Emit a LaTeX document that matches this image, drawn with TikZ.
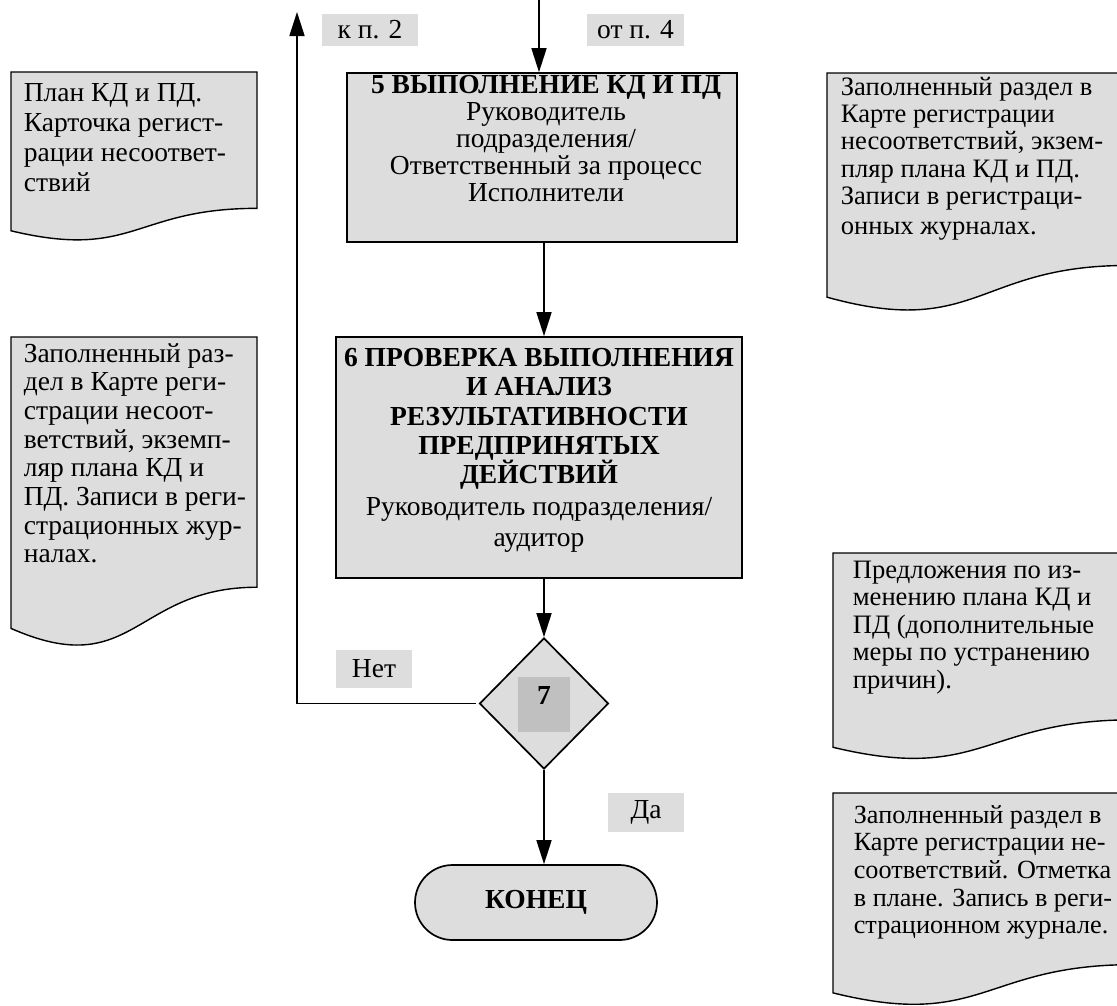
\documentclass[tikz,border=0pt]{standalone}
\usepackage{fontspec}
\setmainfont{Liberation Serif}
\usetikzlibrary{arrows.meta,shapes.geometric,shapes.misc}
\definecolor{boxgray}{RGB}{221,221,221}
\definecolor{sqgray}{RGB}{192,192,192}
\newcommand\docshape[4]{%
  \draw[docline] (#1,#2) -- (#1+#3,#2) -- (#1+#3,#2+0.802*#4)
    .. controls (#1+0.5*#3,#2+0.802*#4) and (#1+0.5*#3,#2+1.1075*#4) .. (#1,#2+0.934*#4) -- cycle;}
\newcommand\fs[1]{\fontsize{27.5}{#1}\selectfont}
\newcommand\fsr[1]{\fontsize{26.6}{#1}\selectfont}
\begin{document}
\begin{tikzpicture}[x=1pt,y=-1pt,
  line width=1.7pt,
  every node/.style={inner sep=0pt},
  txt/.style={font=\fs{27}},
  proc/.style={draw, fill=boxgray},
  lbl/.style={fill=boxgray, font=\fs{30}},
  arr/.style={-{Triangle[length=24pt,width=15pt]}},
  docline/.style={draw, fill=boxgray, line width=1.4pt},
  doctxt/.style={anchor=base west}
]
\useasboundingbox (0,0) rectangle (1117,1005);
\clip (0,0) rectangle (1117,1005);

% documents
\docshape{11}{72}{246}{170}
\node[doctxt, font=\fs{30}] (doc1) at (23,101.7) {\begin{tabular}[t]{@{}l@{}}План КД и ПД.\\Карточка регист-\\рации несоответ-\\ствий\end{tabular}};

\docshape{11}{337}{246}{312}
\node[doctxt, font=\fs{28.7}] (doc2) at (23,362) {\begin{tabular}[t]{@{}l@{}}Заполненный раз-\\дел в Карте реги-\\страции несоот-\\ветствий, экземп-\\ляр плана КД и\\ПД. Записи в реги-\\страционных жур-\\налах.\end{tabular}};

\docshape{827}{73}{300}{240}
\node[doctxt, font=\fsr{27.2}] (doc3) at (840,95.5) {\begin{tabular}[t]{@{}l@{}}Заполненный раздел в\\Карте регистрации\\несоответствий, экзем-\\пляр плана КД и ПД.\\Записи в регистраци-\\[2.5pt]онных журналах.\end{tabular}};

\docshape{833}{553}{300}{208}
\node[doctxt, font=\fsr{27.5}] (doc4) at (852,578) {\begin{tabular}[t]{@{}l@{}}Предложения по из-\\менению плана КД и\\ПД (дополнительные\\меры по устранению\\причин).\end{tabular}};

\docshape{833}{793}{300}{214}
\node[doctxt, font=\fontsize{26.2}{27.7}\selectfont] (doc5) at (853,823) {\begin{tabular}[t]{@{}l@{}}Заполненный раздел в\\Карте регистрации не-\\соответствий. Отметка\\в плане. Запись в реги-\\страционном журнале.\end{tabular}};

% process boxes
\node[proc, minimum width=390pt, minimum height=169pt] (b5) at (542,157.5) {};
\node[font=\fs{27}, anchor=base] (t5) at (546,93.3) {\begin{tabular}[t]{@{}c@{}}\textbf{5 ВЫПОЛНЕНИЕ КД И ПД}\\Руководитель\\подразделения/\\Ответственный за процесс\\Исполнители\end{tabular}};

\node[proc, minimum width=406pt, minimum height=241pt] (b6) at (539,457.5) {};
\node[font=\fs{29.2}, anchor=base] (t6) at (539,366.7) {\begin{tabular}[t]{@{}c@{}}\textbf{6 ПРОВЕРКА ВЫПОЛНЕНИЯ}\\\textbf{И АНАЛИЗ}\\\textbf{РЕЗУЛЬТАТИВНОСТИ}\\\textbf{ПРЕДПРИНЯТЫХ}\\\smash{\textbf{ДЕЙСТВИЙ}}\\[2.5pt]Руководитель подразделения/\\[2.5pt]аудитор\end{tabular}};

% decision
\node[diamond, draw, fill=boxgray, minimum width=129pt, minimum height=131pt] (d7) at (544,703.5) {};
\node[fill=sqgray, minimum width=52pt, minimum height=55pt] (sq7) at (544,704.5) {};
\node[txt, anchor=base] (n7) at (544,704) {\textbf{7}};

% terminator
\node[proc, rounded rectangle, minimum width=242pt, minimum height=75pt, txt] (end) at (536,902.5) {\textbf{КОНЕЦ}};

% labels
\node[lbl, minimum width=96pt, minimum height=32pt] (k2) at (370,30) {к п. 2};
\node[lbl, minimum width=97pt, minimum height=32pt] (o4) at (635.5,30) {от п. 4};
\node[lbl, minimum width=76pt, minimum height=38pt] (no) at (374,669) {Нет};
\node[lbl, minimum width=76pt, minimum height=39pt] (yes) at (646,812.5) {Да};

% connectors
\coordinate (in4) at (539,-2);
\coordinate (up2) at (297,12);
\draw[arr] (in4) -- (b5.north -| in4);
\draw[arr] (b5.south -| d7.north) -- (b6.north -| d7.north);
\draw[arr] (b6.south -| d7.north) -- (d7.north);
\draw[arr] (d7.south) -- (end.north -| d7.south);
\draw[arr, shorten <=3pt] (d7.west) -| (up2);
\end{tikzpicture}
\end{document}
